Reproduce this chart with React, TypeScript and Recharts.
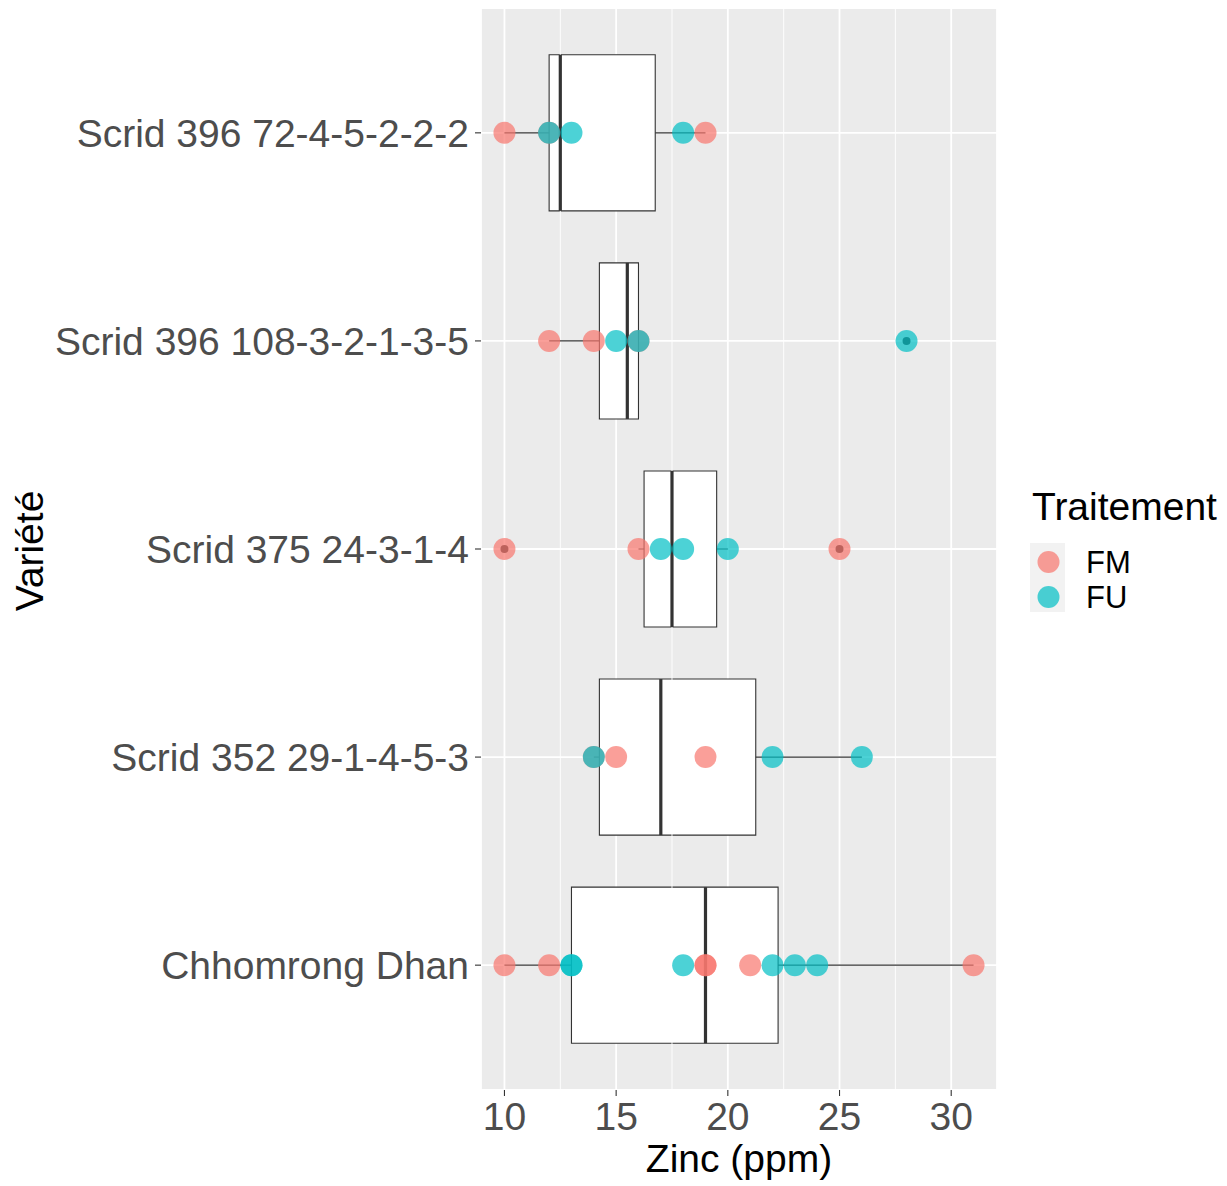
import React from 'react';
import {
  ScatterChart,
  Scatter,
  XAxis,
  YAxis,
  CartesianGrid,
  ReferenceArea,
  ReferenceLine,
  Legend,
} from 'recharts';

// ---- Data ----
const categories = [
  'Scrid 396 72-4-5-2-2-2',
  'Scrid 396 108-3-2-1-3-5',
  'Scrid 375 24-3-1-4',
  'Scrid 352 29-1-4-5-3',
  'Chhomrong Dhan',
];
const fmValues = [
  [10, 12, 19],
  [12, 14, 16],
  [10, 16, 25],
  [14, 15, 19],
  [10, 12, 19, 19, 21, 31],
];
const fuValues = [
  [12, 13, 18],
  [15, 16, 28],
  [17, 18, 20],
  [14, 22, 26],
  [13, 13, 18, 22, 23, 24],
];
const treatments = ['FM', 'FU'];
const xTicks = [10, 15, 20, 25, 30];
const xMinorTicks = [12.5, 17.5, 22.5, 27.5];

// ---- Style ----
const FONT = '"Liberation Sans", Arial, sans-serif';
const COLORS = ['#F8766D', '#00BFC4'];
const BOX_HALF = 0.375;
const FS = 39;

// type-7 quantile
function quantile(sorted: number[], p: number) {
  const h = (sorted.length - 1) * p;
  const lo = Math.floor(h);
  const hi = Math.ceil(h);
  return sorted[lo] + (h - lo) * (sorted[hi] - sorted[lo]);
}

const boxStats = categories.map((_, i) => {
  const all = [...fmValues[i], ...fuValues[i]].sort((a, b) => a - b);
  const q1 = quantile(all, 0.25);
  const med = quantile(all, 0.5);
  const q3 = quantile(all, 0.75);
  const iqr = q3 - q1;
  const inside = all.filter((v) => v >= q1 - 1.5 * iqr && v <= q3 + 1.5 * iqr);
  const lo = Math.min(...inside);
  const hi = Math.max(...inside);
  const outliers = all.filter((v) => v < q1 - 1.5 * iqr || v > q3 + 1.5 * iqr);
  return { pos: i + 1, q1, med, q3, lo, hi, outliers };
});

const fmData = fmValues.flatMap((vals, i) => vals.map((v) => ({ x: v, y: i + 1 })));
const fuData = fuValues.flatMap((vals, i) => vals.map((v) => ({ x: v, y: i + 1 })));
const outlierData = boxStats.flatMap((b) => b.outliers.map((v) => ({ x: v, y: b.pos })));

const pointShape = (color: string) => (props: any) => (
  <circle cx={props.cx} cy={props.cy} r={11} fill={color} fillOpacity={0.7} stroke="none" />
);
const outlierShape = (props: any) => (
  <circle cx={props.cx} cy={props.cy} r={4} fill="#333333" stroke="none" />
);

const LegendContent = () => (
  <svg width={207} height={140} style={{ display: 'block' }}>
    <text x={12} y={40} fontSize={FS} fontFamily={FONT} fill="#000">
      Traitement
    </text>
    <rect x={10} y={63} width={35} height={69} fill="#F2F2F2" />
    {treatments.map((t, i) => (
      <g key={t}>
        <circle cx={28.5} cy={82 + i * 35} r={11} fill={COLORS[i]} fillOpacity={0.7} />
        <text x={66} y={82 + i * 35} dy="0.36em" fontSize={31} fontFamily={FONT} fill="#000">
          {t}
        </text>
      </g>
    ))}
  </svg>
);

const YTitle = (props: any) => {
  const vb = props.viewBox || {};
  const cx = 35;
  const cy = (vb.y ?? 0) + (vb.height ?? 0) / 2 + 2;
  return (
    <text
      x={cx}
      y={cy}
      transform={`rotate(-90, ${cx}, ${cy})`}
      textAnchor="middle"
      fontSize={FS}
      fontFamily={FONT}
      fill="#000"
    >
      Variété
    </text>
  );
};

const XTitle = (props: any) => {
  const vb = props.viewBox || {};
  return (
    <text
      x={(vb.x ?? 0) + (vb.width ?? 0) / 2}
      y={(vb.y ?? 0) + 82}
      textAnchor="middle"
      fontSize={FS}
      fontFamily={FONT}
      fill="#000"
    >
      Zinc (ppm)
    </text>
  );
};

export default function App() {
  return (
    <div style={{ width: 1219, height: 1178, fontFamily: FONT }}>
      <ScatterChart
        width={1219}
        height={1178}
        margin={{ top: 0, right: 230, bottom: 0, left: 0 }}
      >
        <CartesianGrid fill="#EBEBEB" stroke="#FFFFFF" strokeWidth={1.8} />
        {xMinorTicks.map((t) => (
          <ReferenceLine key={`minor-${t}`} x={t} stroke="#FFFFFF" strokeWidth={0.9} />
        ))}
        <XAxis
          type="number"
          dataKey="x"
          domain={[8.95, 32.05]}
          ticks={xTicks}
          allowDataOverflow
          height={96}
          axisLine={false}
          tickLine={{ stroke: '#333333', strokeWidth: 1.1 }}
          tickSize={6}
          tickMargin={6}
          tick={{ fontSize: FS, fill: '#4D4D4D', fontFamily: FONT }}
          label={XTitle}
        />
        <YAxis
          type="number"
          dataKey="y"
          domain={[0.4, 5.6]}
          reversed
          ticks={[1, 2, 3, 4, 5]}
          allowDataOverflow
          width={473}
          axisLine={false}
          tickLine={{ stroke: '#333333', strokeWidth: 1.1 }}
          tickSize={6}
          tickMargin={6}
          tickFormatter={(v: number) => categories[v - 1] ?? ''}
          tick={{ fontSize: FS, fill: '#4D4D4D', fontFamily: FONT }}
          label={YTitle}
        />
        {boxStats.map((b) => (
          <ReferenceLine
            key={`wl-${b.pos}`}
            segment={[
              { x: b.lo, y: b.pos },
              { x: b.q1, y: b.pos },
            ]}
            stroke="#333333"
            strokeWidth={1.1}
          />
        ))}
        {boxStats.map((b) => (
          <ReferenceLine
            key={`wh-${b.pos}`}
            segment={[
              { x: b.q3, y: b.pos },
              { x: b.hi, y: b.pos },
            ]}
            stroke="#333333"
            strokeWidth={1.1}
          />
        ))}
        {boxStats.map((b) => (
          <ReferenceArea
            key={`box-${b.pos}`}
            x1={b.q1}
            x2={b.q3}
            y1={b.pos - BOX_HALF}
            y2={b.pos + BOX_HALF}
            fill="#FFFFFF"
            fillOpacity={1}
            stroke="#333333"
            strokeWidth={1.1}
          />
        ))}
        {boxStats.map((b) => (
          <ReferenceLine
            key={`med-${b.pos}`}
            segment={[
              { x: b.med, y: b.pos - BOX_HALF },
              { x: b.med, y: b.pos + BOX_HALF },
            ]}
            stroke="#333333"
            strokeWidth={3.2}
          />
        ))}
        <Scatter
          name="outliers"
          data={outlierData}
          shape={outlierShape}
          isAnimationActive={false}
          legendType="none"
        />
        <Scatter
          name="FM"
          data={fmData}
          shape={pointShape(COLORS[0])}
          isAnimationActive={false}
        />
        <Scatter
          name="FU"
          data={fuData}
          shape={pointShape(COLORS[1])}
          isAnimationActive={false}
        />
        <Legend
          layout="vertical"
          align="center"
          verticalAlign="middle"
          content={LegendContent}
          wrapperStyle={{ position: 'absolute', left: 1012, top: 472, width: 207, height: 140 }}
        />
      </ScatterChart>
    </div>
  );
}
